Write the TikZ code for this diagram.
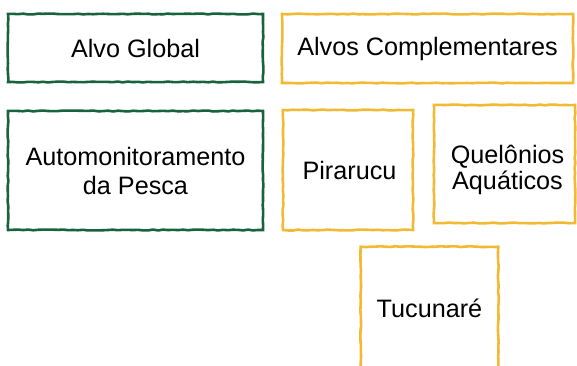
\documentclass[tikz,border=0pt]{standalone}
\usepackage{fontspec}
\setmainfont{Liberation Sans}
\usetikzlibrary{decorations.pathmorphing}
\definecolor{rgreen}{RGB}{24,98,62}
\definecolor{ryellow}{RGB}{242,186,52}
\begin{document}
\begin{tikzpicture}[x=1pt,y=-1pt,
  rough/.style={decorate,decoration={random steps,segment length=5pt,amplitude=0.45pt}},
  txt/.style={inner sep=0pt,align=center,font=\fontsize{25.2pt}{29pt}\selectfont},
  box/.style={txt,rough,line width=2.6pt},
  gbox/.style={box,draw=rgreen},
  ybox/.style={box,draw=ryellow}]
\useasboundingbox[fill=white] (0,0) rectangle (577,365);
\node[gbox,minimum width=255pt,minimum height=68pt] (global) at (135.5,48) {Alvo Global};
\node[ybox,minimum width=291pt,minimum height=69pt] (compl) at (427.5,48.5) {Alvos Complementares};
\node[gbox,minimum width=255pt,minimum height=119pt] (auto) at (135.5,170.5) {Automonitoramento\\da Pesca};
\node[ybox,minimum width=130pt,minimum height=120pt] (pira) at (348,170) {\hspace*{3pt}Pirarucu};
\node[ybox,minimum width=141pt,minimum height=118pt] (quel) at (504.5,164) {};
\node[txt,font=\fontsize{25.2pt}{26pt}\selectfont] (queltext) at ([shift={(3,6)}]quel.center) {Quelônios\\Aquáticos};
\node[box,minimum width=135pt,minimum height=120pt] (tucu) at (429.5,308) {Tucunaré};
\draw[rough,line width=2.6pt,draw=ryellow,line join=miter] (tucu.south west |- 0,366) -- (tucu.north west) -- (tucu.north east) -- (tucu.south east |- 0,366);
\end{tikzpicture}
\end{document}
